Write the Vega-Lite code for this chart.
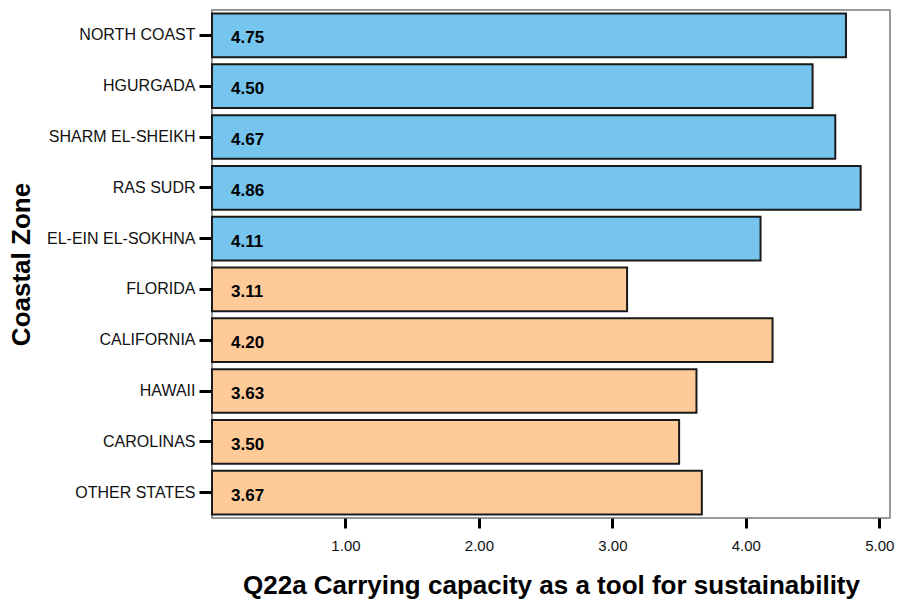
{
  "$schema": "https://vega.github.io/schema/vega-lite/v6.json",
  "width": 678,
  "height": 508,
  "autosize": {"type": "none"},
  "padding": {"left": 212, "top": 10, "right": 10, "bottom": 83},
  "background": "white",
  "config": {
    "view": {"stroke": "#777777", "strokeWidth": 1.5},
    "font": "Liberation Sans"
  },
  "data": {
    "values": [
      {"zone": "NORTH COAST", "value": 4.75, "group": "Egypt"},
      {"zone": "HGURGADA", "value": 4.50, "group": "Egypt"},
      {"zone": "SHARM EL-SHEIKH", "value": 4.67, "group": "Egypt"},
      {"zone": "RAS SUDR", "value": 4.86, "group": "Egypt"},
      {"zone": "EL-EIN EL-SOKHNA", "value": 4.11, "group": "Egypt"},
      {"zone": "FLORIDA", "value": 3.11, "group": "USA"},
      {"zone": "CALIFORNIA", "value": 4.20, "group": "USA"},
      {"zone": "HAWAII", "value": 3.63, "group": "USA"},
      {"zone": "CAROLINAS", "value": 3.50, "group": "USA"},
      {"zone": "OTHER STATES", "value": 3.67, "group": "USA"}
    ]
  },
  "encoding": {
    "y": {
      "field": "zone",
      "type": "nominal",
      "sort": null,
      "scale": {"paddingInner": 0.14, "paddingOuter": 0.07},
      "axis": {
        "title": "Coastal Zone",
        "titleFont": "Liberation Sans",
        "titleFontSize": 26,
        "titleFontWeight": "bold",
        "titleColor": "#000000",
        "titlePadding": 12,
        "labelFont": "Liberation Sans",
        "labelFontSize": 16,
        "labelColor": "#111111",
        "labelPadding": 4,
        "tickSize": 13,
        "tickWidth": 3,
        "tickColor": "#000000",
        "domain": false
      }
    }
  },
  "layer": [
    {
      "mark": {"type": "bar", "stroke": "#1a1a1a", "strokeWidth": 2},
      "encoding": {
        "x": {
          "field": "value",
          "type": "quantitative",
          "scale": {"domain": [0, 5.08], "nice": false, "zero": true},
          "axis": {
            "title": "Q22a Carrying capacity as a tool for sustainability",
            "titleFont": "Liberation Sans",
            "titleFontSize": 26,
            "titleFontWeight": "bold",
            "titleColor": "#000000",
            "titlePadding": 19,
            "values": [1, 2, 3, 4, 5],
            "format": ".2f",
            "labelFont": "Liberation Sans",
            "labelFontSize": 15,
            "labelColor": "#111111",
            "labelPadding": 10,
            "tickSize": 10,
            "tickWidth": 3,
            "tickColor": "#000000",
            "grid": false,
            "domain": false
          }
        },
        "color": {
          "field": "group",
          "type": "nominal",
          "scale": {"domain": ["Egypt", "USA"], "range": ["#75C5EF", "#FECA98"]},
          "legend": null
        }
      }
    },
    {
      "mark": {
        "type": "text",
        "align": "left",
        "baseline": "middle",
        "dx": 19,
        "dy": 3,
        "font": "Liberation Sans",
        "fontSize": 17,
        "fontWeight": "bold",
        "color": "#000000"
      },
      "encoding": {
        "x": {"datum": 0, "type": "quantitative"},
        "text": {"field": "value", "type": "quantitative", "format": ".2f"}
      }
    }
  ]
}
